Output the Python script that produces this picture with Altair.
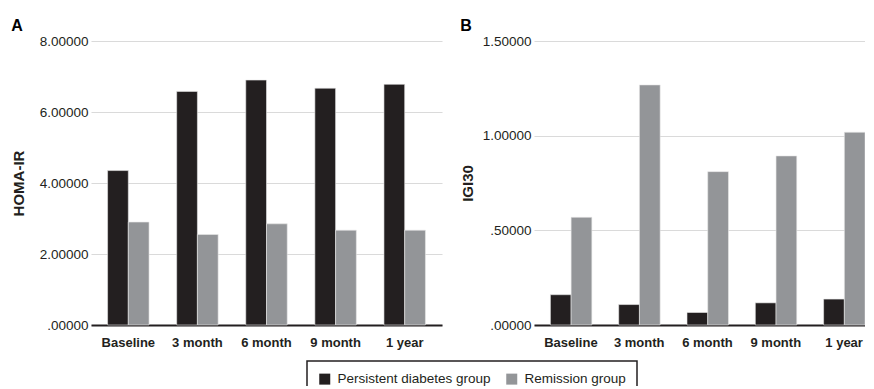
import altair as alt
import pandas as pd

times = ["Baseline", "3 month", "6 month", "9 month", "1 year"]
groups = ["Persistent diabetes group", "Remission group"]
homa_persistent = [4.35, 6.58, 6.90, 6.67, 6.78]
homa_remission = [2.90, 2.55, 2.85, 2.67, 2.67]
igi_persistent = [0.160, 0.108, 0.066, 0.117, 0.137]
igi_remission = [0.569, 1.268, 0.810, 0.893, 1.018]
homa_ticks = [0, 2, 4, 6, 8]
igi_ticks = [0, 0.5, 1.0, 1.5]
colors = ["#231f20", "#939598"]

rows = []
for i, t in enumerate(times):
    rows.append({"time": t, "group": groups[0], "homa": homa_persistent[i], "igi": igi_persistent[i]})
    rows.append({"time": t, "group": groups[1], "homa": homa_remission[i], "igi": igi_remission[i]})
df = pd.DataFrame(rows)

FONT = "Liberation Sans"
TXT = "#231f20"


def panel(field, ytitle, letter, dmax, ticks, width, title_pad):
    xscale = alt.Scale(paddingInner=0.4, paddingOuter=0.24)
    return alt.Chart(df).mark_bar(stroke="#e8e8e8", strokeWidth=0.6).encode(
        x=alt.X("time:N", sort=times, scale=xscale,
                axis=alt.Axis(title=None, labelAngle=0, labelFontWeight="bold",
                              labelFontSize=13, labelColor=TXT, labelFont=FONT,
                              ticks=False, domainColor=TXT, domainWidth=2,
                              labelPadding=11, grid=False)),
        xOffset=alt.XOffset("group:N", sort=groups),
        y=alt.Y(f"{field}:Q", scale=alt.Scale(domain=[0, dmax], nice=False),
                axis=alt.Axis(values=ticks, title=ytitle, titleFontWeight="bold",
                              titleFontSize=15, titleFont=FONT, titleColor=TXT,
                              titlePadding=title_pad,
                              labelExpr="replace(format(datum.value, '.5f'), /^0\\./, '.')",
                              labelFontSize=13.5, labelFont=FONT, labelColor=TXT,
                              labelPadding=3, ticks=False, domain=False,
                              grid=True, gridColor="#dadada", gridWidth=1.2)),
        color=alt.Color("group:N", sort=groups,
                        scale=alt.Scale(domain=groups, range=colors),
                        legend=alt.Legend(title=None)),
    ).properties(
        width=width, height=284,
        title=alt.TitleParams(letter, anchor="start", frame="bounds", fontSize=16,
                              fontWeight="bold", font=FONT, color="#000000", offset=0),
    )


a = panel("homa", "HOMA-IR", "A", 8, homa_ticks, 351, 13)
b = panel("igi", "IGI30", "B", 1.5, igi_ticks, 347, 7)

chart = alt.hconcat(a, b, spacing=18).properties(
    padding={"left": 3, "top": 10, "right": -16, "bottom": -12}
).configure_view(stroke=None).configure_legend(
    orient="none", legendX=216, legendY=320, direction="horizontal",
    strokeColor=TXT, strokeWidth=1.5, padding=11, symbolType="square",
    symbolSize=121, symbolStrokeWidth=0, labelFontSize=13.5, labelFont=FONT,
    labelColor=TXT, columnPadding=14, labelOffset=6
)

chart.save("out.html", embed_options={"renderer": "svg", "actions": False})
